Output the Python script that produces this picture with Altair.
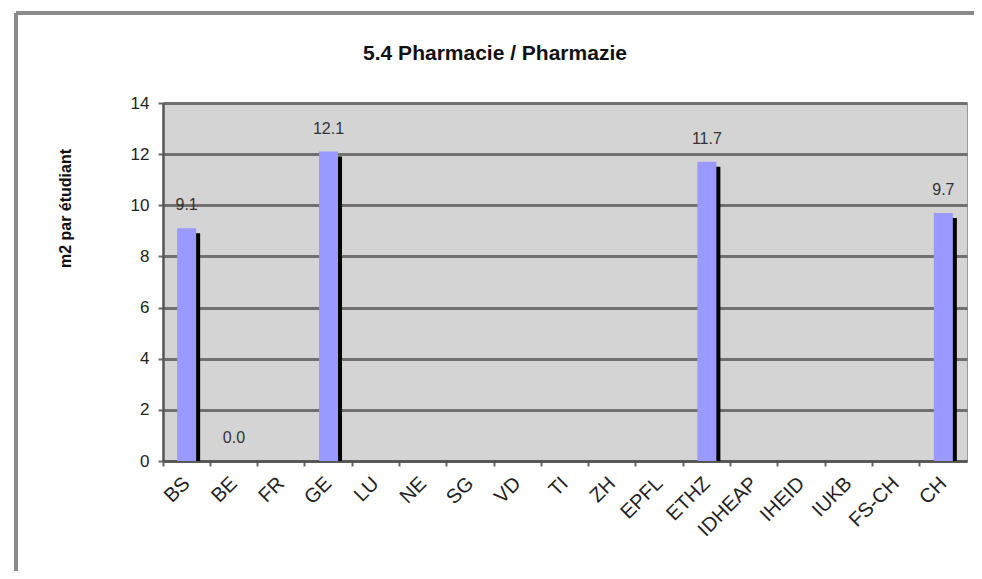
import altair as alt
import pandas as pd

categories = ["BS", "BE", "FR", "GE", "LU", "NE", "SG", "VD", "TI", "ZH",
              "EPFL", "ETHZ", "IDHEAP", "IHEID", "IUKB", "FS-CH", "CH"]
values = [9.1, 0.0, None, 12.1, None, None, None, None, None, None,
          None, 11.7, None, None, None, None, 9.7]
title_text = "5.4 Pharmacie / Pharmazie"

df = pd.DataFrame({"cat": categories, "val": values})
df["label"] = df["val"].map(lambda v: "" if pd.isna(v) else f"{v:.1f}")

FONT = "Liberation Sans"

x_scale = alt.Scale(domain=categories, paddingInner=0, paddingOuter=0)
x_enc = alt.X("cat:N", sort=categories, scale=x_scale,
              axis=alt.Axis(title=None, labelAngle=-45, labelAlign="right",
                            labelBaseline="middle", labelPadding=14,
                            labelFontSize=20, labelFont=FONT, labelColor="#222",
                            bandPosition=0, tickSize=5, tickWidth=2, tickColor="#666",
                            domainColor="#555", domainWidth=2.5, grid=False))
y_scale = alt.Scale(domain=[0, 14], nice=False)

base = alt.Chart(df)

shadow = base.transform_filter("datum.val != null").mark_bar(
    size=19, color="#000000", xOffset=4, yOffset=5, clip=True
).encode(x=x_enc, y=alt.Y("val:Q", scale=y_scale))

bars = base.transform_filter("datum.val != null").mark_bar(
    size=19, color="#9999ff"
).encode(
    x=x_enc,
    y=alt.Y("val:Q", scale=y_scale,
            axis=alt.Axis(title="m2 par étudiant", values=[0, 2, 4, 6, 8, 10, 12, 14],
                          labelFontSize=17, labelFont=FONT, labelColor="#222",
                          labelPadding=9, tickSize=5, tickWidth=2, tickColor="#666",
                          domainColor="#555", domainWidth=2.5,
                          gridColor="#707070", gridWidth=3, gridOpacity=1,
                          titleFont=FONT, titleFontSize=16, titleFontWeight="bold",
                          titleColor="#111", titleAngle=-90, titleAlign="center",
                          titleBaseline="middle", titleX=-98, titleY=105)),
)

labels = base.transform_filter("datum.val != null").mark_text(
    dy=-23, baseline="middle", align="center", fontSize=16, font=FONT, color="#333"
).encode(x=x_enc, y=alt.Y("val:Q", scale=y_scale), text="label:N")

title_df = pd.DataFrame({"t": [title_text]})
title_mark = alt.Chart(title_df).mark_text(
    font=FONT, fontSize=21, fontWeight="bold", color="#111",
    align="center", baseline="middle"
).encode(x=alt.value(332), y=alt.value(-49), text="t:N")

frame_top = base.mark_rule(color="#8a8a8a", strokeWidth=3).encode(
    x=alt.value(-147), x2=alt.value(830), y=alt.value(-90))
frame_left = base.mark_rule(color="#8a8a8a", strokeWidth=3).encode(
    x=alt.value(-147), y=alt.value(-90), y2=alt.value(480))

chart = alt.layer(frame_top, frame_left, shadow, bars, labels, title_mark).properties(
    width=804, height=358,
    autosize=alt.AutoSizeParams(type="none"),
    padding={"left": 155, "top": 95, "right": 7, "bottom": 110},
    background="white",
).configure_view(fill="#d4d4d4", stroke="#999999", strokeWidth=1)

chart.save("out.html", embed_options={"renderer": "svg", "actions": False})
